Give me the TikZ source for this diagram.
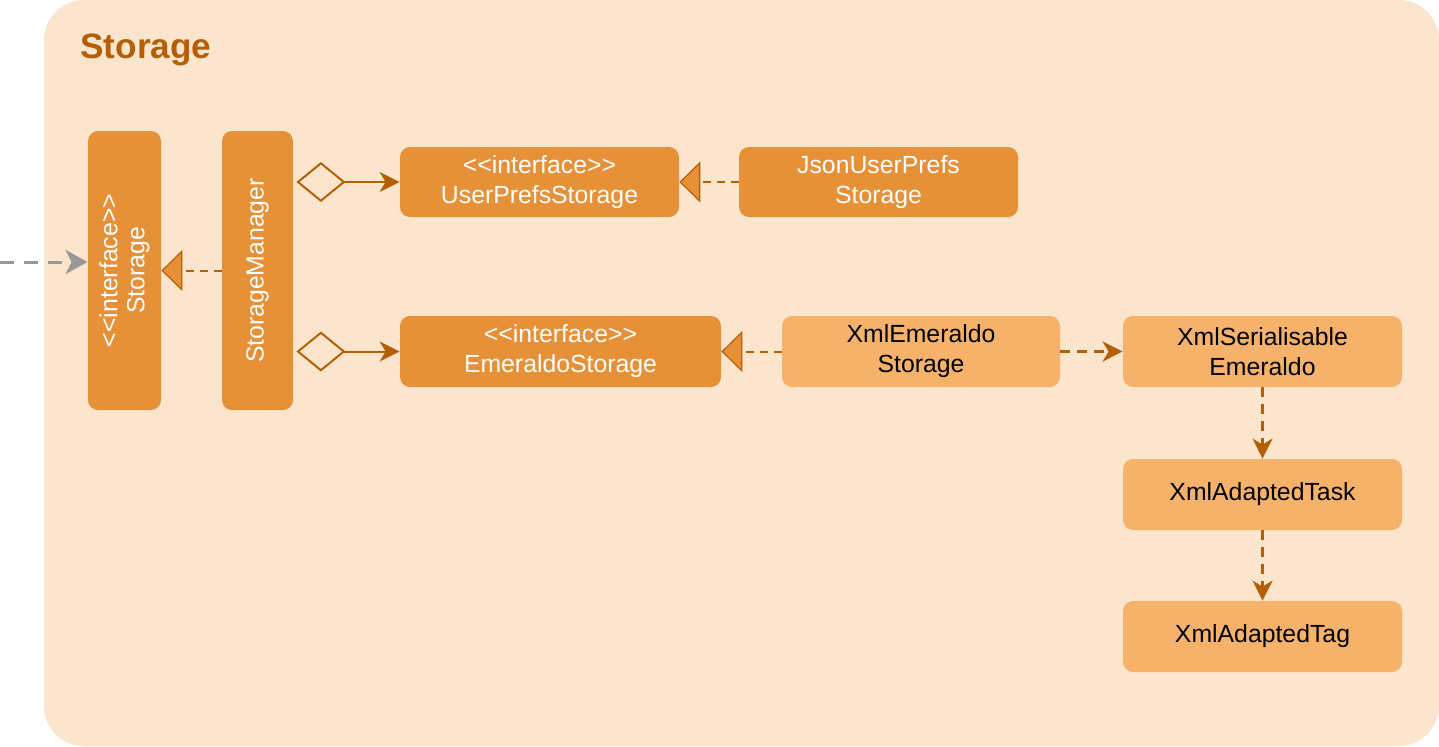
\documentclass[tikz,border=0pt]{standalone}
\usepackage{fontspec}
\setmainfont{Liberation Sans}
\usetikzlibrary{arrows.meta}
\definecolor{bgc}{HTML}{FCE5CD}
\definecolor{dkc}{HTML}{E69138}
\definecolor{ltc}{HTML}{F6B26B}
\definecolor{lnc}{HTML}{B45F06}
\definecolor{grc}{HTML}{999999}
\newcommand{\iface}{<{}<interface>{}>}
\tikzset{
  box/.style={rounded corners=5pt, inner sep=0pt, align=center, font=\fontsize{12.4}{15}\selectfont},
  darkbox/.style={box, fill=dkc, text=white},
  lightbox/.style={box, fill=ltc, text=black},
  vlabel/.style={rotate=90, align=center, text=white, inner sep=0pt, font=\fontsize{12.4}{13.5}\selectfont},
  realize/.style={draw=lnc, line width=1pt, dash pattern=on 4pt off 3pt,
    -{Triangle[length=10.5pt,width=20.5pt,fill=dkc,line width=0.6pt]}},
  agg/.style={draw=lnc, line width=1pt, shorten <=1.5pt,
    {Diamond[open,length=24.5pt,width=20pt,line width=1pt]}-{Stealth[length=10pt,width=10pt,inset=3pt]}},
  dep/.style={draw=lnc, line width=1.5pt, dash pattern=on 5pt off 3.5pt,
    -{Stealth[length=10pt,width=10pt,inset=3pt]}},
}
\begin{document}
\begin{tikzpicture}[x=0.5pt,y=-0.5pt]
\useasboundingbox (0,0) rectangle (1439,746);
\fill[bgc, rounded corners=20pt] (44,0) rectangle (1439,746);
\node[font=\fontsize{17.6}{20}\selectfont\bfseries, text=lnc, anchor=base west, inner sep=0pt] (title) at (80,58) {Storage};

\node[darkbox, minimum width=36.5pt, minimum height=139.5pt] (st) at (124.5,270.5) {};
\node[vlabel] (stlbl) at (st) {\iface\\Storage};
\node[darkbox, minimum width=35.5pt, minimum height=139.5pt] (sm) at (257.5,270.5) {};
\node[vlabel] (smlbl) at (sm) {StorageManager};

\node[darkbox, minimum width=139.5pt, minimum height=35pt] (ups) at (539.5,182) {\iface\\UserPrefsStorage};
\node[darkbox, minimum width=139.5pt, minimum height=35pt] (jups) at (878.5,182) {JsonUserPrefs\\Storage};
\node[darkbox, minimum width=160.5pt, minimum height=35.5pt] (es) at (560.5,351.5) {\iface\\EmeraldoStorage};
\node[lightbox, minimum width=139pt, minimum height=35.5pt] (xes) at (921,351.5) {XmlEmeraldo\\Storage};
\node[lightbox, minimum width=139.5pt, minimum height=35.5pt] (xse) at (1262.5,351.5) {XmlSerialisable\\Emeraldo};
\node[lightbox, minimum width=139.5pt, minimum height=35.5pt] (xat) at (1262.5,494.5) {XmlAdaptedTask};
\node[lightbox, minimum width=139.5pt, minimum height=35.5pt] (xag) at (1262.5,636.5) {XmlAdaptedTag};

\coordinate (ext) at (0,262);
\draw[draw=grc, line width=1.5pt, dash pattern=on 7pt off 5pt, -{Stealth[length=11pt,width=12pt,inset=3pt]}] (ext) -- (ext -| st.west);
\draw[realize] (sm.west) -- (st.east);
\draw[agg] (sm.east |- ups.west) -- (ups.west);
\draw[agg] (sm.east |- es.west) -- (es.west);
\draw[realize] (jups.west) -- (ups.east);
\draw[realize] (xes.west) -- (es.east);
\draw[dep] (xes.east) -- (xse.west);
\draw[dep] (xse.south) -- (xat.north);
\draw[dep] (xat.south) -- (xag.north);
\end{tikzpicture}
\end{document}
